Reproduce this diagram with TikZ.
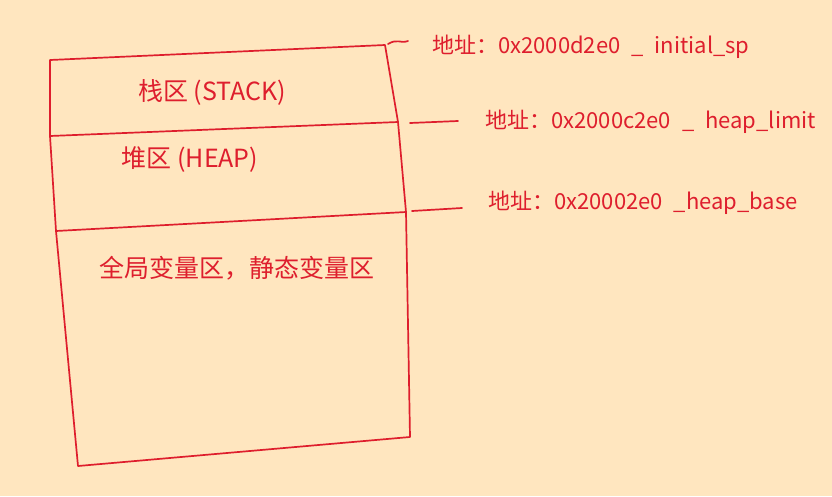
\documentclass[tikz,border=0pt]{standalone}
\usepackage{fontspec}
\setmainfont{Noto Sans CJK SC}
\usetikzlibrary{positioning}
\definecolor{paper}{RGB}{255,230,191}
\definecolor{ink}{RGB}{222,30,45}

\begin{document}
\begin{tikzpicture}[x=1pt, y=-1pt,
  pen/.style={draw=ink, line width=1.7pt, line cap=round, line join=round},
  area/.style={text=ink, font=\fontsize{25}{29}\selectfont, inner sep=0pt},
  addr/.style={text=ink, font=\fontsize{22}{26}\selectfont, inner sep=0pt, anchor=west}]
  \fill[paper] (0,0) rectangle (832,496);
  \useasboundingbox (0,0) rectangle (832,496);

  % corners of the memory block
  \coordinate (tl) at (50,60);
  \coordinate (tr) at (385,45);
  \coordinate (ml) at (50,136);
  \coordinate (mr) at (398,122);
  \coordinate (nl) at (56,231);
  \coordinate (nr) at (406,212);
  \coordinate (bl) at (78,466);
  \coordinate (br) at (410,437);

  % outline and dividers
  \draw[pen] (tl) -- (tr) -- (mr) -- (nr) -- (br) -- (bl) -- (nl) -- (ml) -- cycle;
  \draw[pen] (ml) -- (mr);
  \draw[pen] (nl) -- (nr);

  % address ticks
  \coordinate (t1a) at (388,44);
  \coordinate (t1b) at (408,41);
  \coordinate (t2a) at (410,123);
  \coordinate (t2b) at (458,121);
  \coordinate (t3a) at (412,211);
  \coordinate (t3b) at (462,208);
  \draw[pen] (t1a) .. controls (398,38) and (400,44) .. (t1b);
  \draw[pen] (t2a) -- (t2b);
  \draw[pen] (t3a) -- (t3b);

  % areas
  \node[area] (stack) at (212,92) {栈区 (STACK)};
  \node[area] (heap) at (190,160) {堆区 (HEAP)};
  \node[area] (global) at (237,268) {全局变量区，静态变量区};

  % addresses
  \node[addr] (sp) at (432,47) {地址：0x2000d2e0\enspace\_\enspace initial\_sp};
  \node[addr] (limit) at (485,122) {地址：0x2000c2e0\enspace\_\enspace heap\_limit};
  \node[addr] (base) at (488,203) {地址：0x20002e0\enspace\_heap\_base};
\end{tikzpicture}
\end{document}
